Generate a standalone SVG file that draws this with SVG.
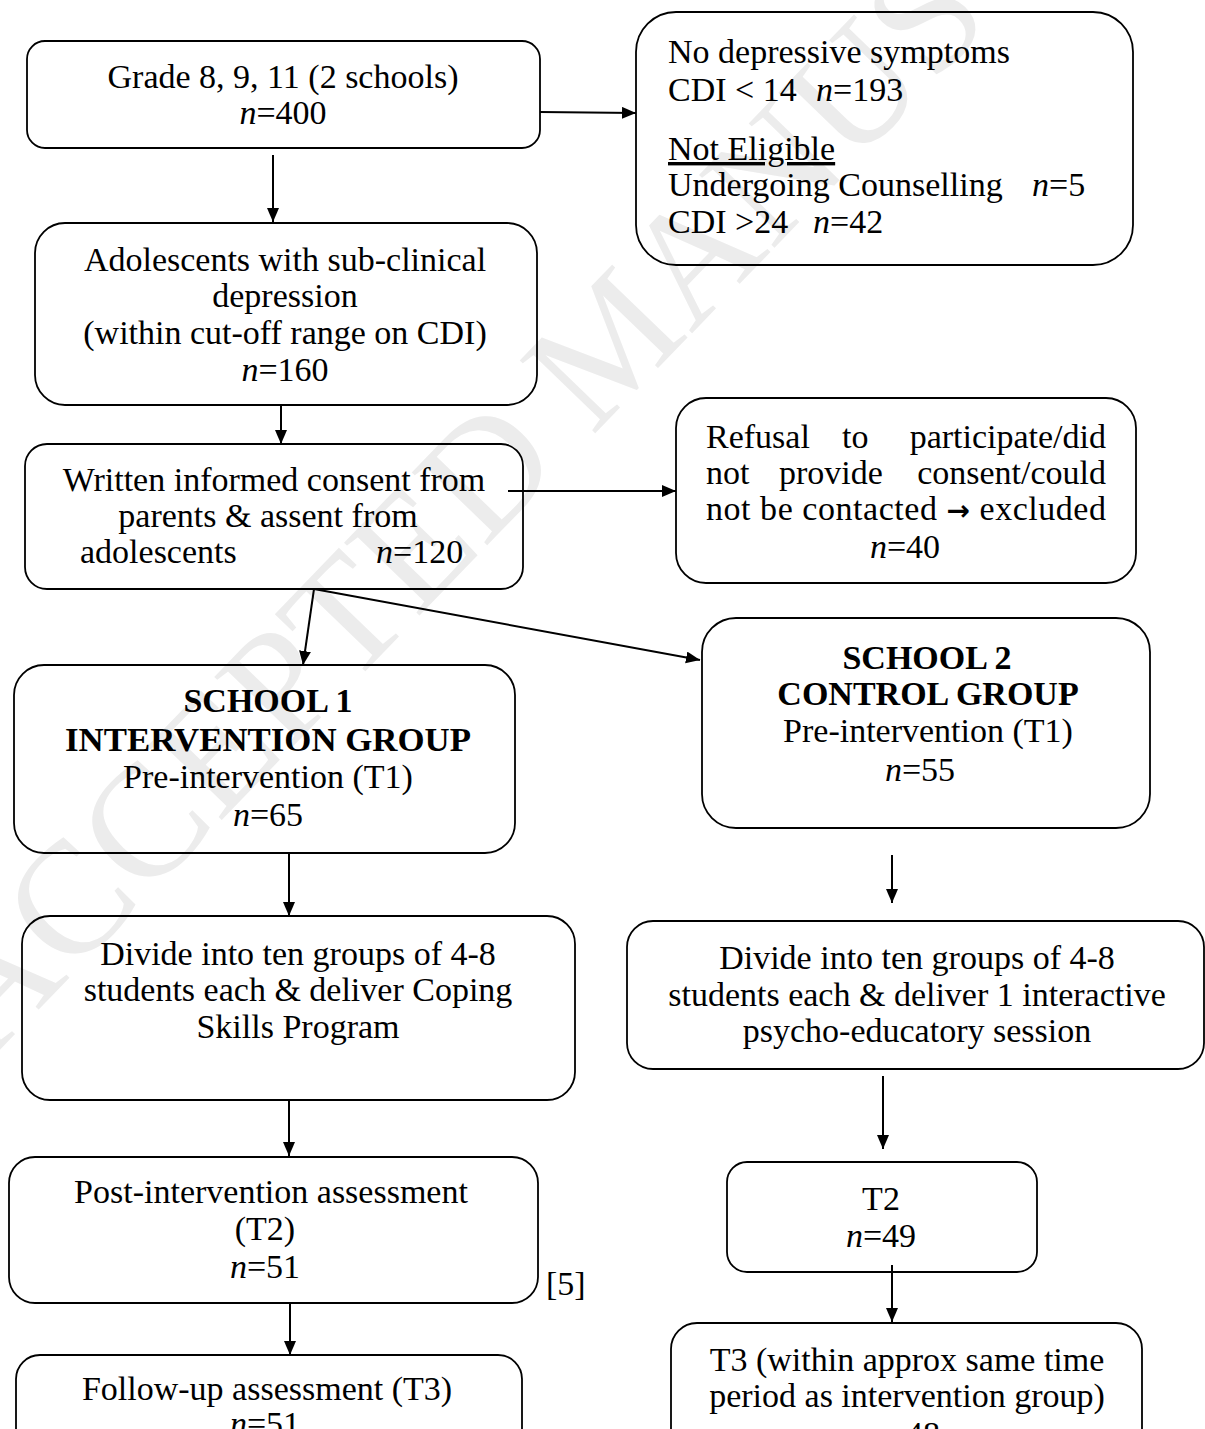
<svg xmlns="http://www.w3.org/2000/svg" width="1205" height="1429" viewBox="0 0 1205 1429">
<style>
.b{fill:none;stroke:#000;stroke-width:1.8}
.t{font-family:"Liberation Serif","Times New Roman",serif;font-size:34px;fill:#000}
.c{text-anchor:middle}
.bd{font-weight:bold}
.i{font-style:italic}
.a{fill:none;stroke:#000;stroke-width:2;marker-end:url(#ah)}
.wm{font-family:"Liberation Serif",serif;font-size:160px;fill:#ececec}
</style>
<defs>
<marker id="ah" markerUnits="userSpaceOnUse" markerWidth="16" markerHeight="14" refX="14" refY="6" orient="auto">
<path d="M0,0 L14,6 L0,12 Z" fill="#000"/>
</marker>
</defs>
<rect width="1205" height="1429" fill="#fff"/>
<text class="wm" transform="translate(-10,1060) rotate(-46)">ACCEPTED MANUSCRIPT</text>

<g id="connectors">
<line class="a" x1="540" y1="112" x2="636" y2="113"/>
<line class="a" x1="273" y1="155" x2="273" y2="222"/>
<line class="a" x1="281" y1="405" x2="281" y2="444"/>
<line class="a" x1="508" y1="491" x2="676" y2="491"/>
<line class="a" x1="314" y1="589" x2="303" y2="665"/>
<line class="a" x1="314" y1="589" x2="700" y2="660"/>
<line class="a" x1="289" y1="853" x2="289" y2="916"/>
<line class="a" x1="892" y1="855" x2="892" y2="903"/>
<line class="a" x1="289" y1="1100" x2="289" y2="1156"/>
<line class="a" x1="883" y1="1076" x2="883" y2="1149"/>
<line class="a" x1="290" y1="1303" x2="290" y2="1355"/>
<line class="a" x1="892" y1="1265" x2="892" y2="1322"/>
</g>

<g id="n1">
<rect class="b" x="27" y="41" width="513" height="107" rx="18"/>
<text class="t c" x="283" y="88">Grade 8, 9, 11 (2 schools)</text>
<text class="t c" x="283" y="124"><tspan class="i">n</tspan>=400</text>
</g>

<g id="n2">
<rect class="b" x="636" y="12" width="497" height="253" rx="40"/>
<text class="t" x="668" y="63">No depressive symptoms</text>
<text class="t" x="668" y="101">CDI &lt; 14<tspan class="i" x="816">n</tspan>=193</text>
<text class="t" x="668" y="160" text-decoration="underline">Not Eligible</text>
<text class="t" x="668" y="196">Undergoing Counselling<tspan class="i" x="1032">n</tspan>=5</text>
<text class="t" x="668" y="233">CDI &gt;24<tspan class="i" x="813">n</tspan>=42</text>
</g>

<g id="n3">
<rect class="b" x="35" y="223" width="502" height="182" rx="30"/>
<text class="t c" x="285" y="271">Adolescents with sub-clinical</text>
<text class="t c" x="285" y="307">depression</text>
<text class="t c" x="285" y="344">(within cut-off range on CDI)</text>
<text class="t c" x="285" y="381"><tspan class="i">n</tspan>=160</text>
</g>

<g id="n4">
<rect class="b" x="25" y="444" width="498" height="145" rx="22"/>
<text class="t c" x="274" y="491">Written informed consent from</text>
<text class="t c" x="268" y="527">parents &amp; assent from</text>
<text class="t" x="80" y="563">adolescents</text>
<text class="t" x="376" y="563"><tspan class="i">n</tspan>=120</text>
</g>

<g id="n5">
<rect class="b" x="676" y="398" width="460" height="185" rx="30"/>
<text class="t" x="706" y="448">Refusal</text>
<text class="t" x="842" y="448">to</text>
<text class="t" x="1106" y="448" text-anchor="end">participate/did</text>
<text class="t" x="706" y="484">not</text>
<text class="t" x="779" y="484">provide</text>
<text class="t" x="1106" y="484" text-anchor="end">consent/could</text>
<text class="t" x="706" y="520" textLength="400" lengthAdjust="spacing">not be contacted <tspan font-family="DejaVu Sans" font-weight="bold" font-size="28">→</tspan> excluded</text>
<text class="t c" x="905" y="558"><tspan class="i">n</tspan>=40</text>
</g>

<g id="n6">
<rect class="b" x="14" y="665" width="501" height="188" rx="30"/>
<text class="t c bd" x="268" y="712">SCHOOL 1</text>
<text class="t c bd" x="268" y="751" textLength="406" lengthAdjust="spacingAndGlyphs">INTERVENTION GROUP</text>
<text class="t c" x="268" y="788">Pre-intervention (T1)</text>
<text class="t c" x="268" y="826"><tspan class="i">n</tspan>=65</text>
</g>

<g id="n7">
<rect class="b" x="702" y="618" width="448" height="210" rx="34"/>
<text class="t c bd" x="927" y="669">SCHOOL 2</text>
<text class="t c bd" x="928" y="705">CONTROL GROUP</text>
<text class="t c" x="928" y="742">Pre-intervention (T1)</text>
<text class="t c" x="920" y="781"><tspan class="i">n</tspan>=55</text>
</g>

<g id="n8">
<rect class="b" x="22" y="916" width="553" height="184" rx="28"/>
<text class="t c" x="298" y="965">Divide into ten groups of 4-8</text>
<text class="t c" x="298" y="1001">students each &amp; deliver Coping</text>
<text class="t c" x="298" y="1038">Skills Program</text>
</g>

<g id="n9">
<rect class="b" x="627" y="921" width="577" height="148" rx="26"/>
<text class="t c" x="917" y="969">Divide into ten groups of 4-8</text>
<text class="t c" x="917" y="1006">students each &amp; deliver 1 interactive</text>
<text class="t c" x="917" y="1042">psycho-educatory session</text>
</g>

<g id="n10">
<rect class="b" x="9" y="1157" width="529" height="146" rx="26"/>
<text class="t c" x="271" y="1203">Post-intervention assessment</text>
<text class="t c" x="265" y="1240">(T2)</text>
<text class="t c" x="265" y="1278"><tspan class="i">n</tspan>=51</text>
</g>

<text class="t" x="546" y="1295">[5]</text>

<g id="n11">
<rect class="b" x="727" y="1162" width="310" height="110" rx="20"/>
<text class="t c" x="881" y="1210">T2</text>
<text class="t c" x="881" y="1247"><tspan class="i">n</tspan>=49</text>
</g>

<g id="n12">
<rect class="b" x="16" y="1355" width="506" height="120" rx="24"/>
<text class="t c" x="267" y="1400">Follow-up assessment (T3)</text>
<text class="t c" x="265" y="1435"><tspan class="i">n</tspan>=51</text>
</g>

<g id="n13">
<rect class="b" x="671" y="1323" width="471" height="150" rx="26"/>
<text class="t c" x="907" y="1371">T3 (within approx same time</text>
<text class="t c" x="907" y="1407">period as intervention group)</text>
<text class="t c" x="905" y="1445"><tspan class="i">n</tspan>=48</text>
</g>
</svg>
